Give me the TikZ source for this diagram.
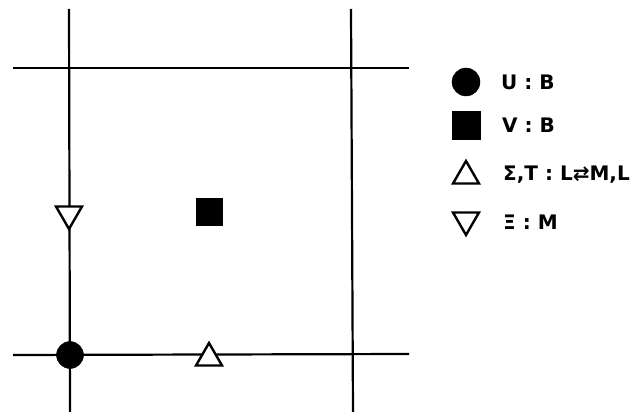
\documentclass[tikz,border=0pt]{standalone}
\usepackage{fontspec}
\setmainfont{DejaVu Sans}
\usetikzlibrary{shapes.geometric}
\begin{document}
\begin{tikzpicture}[x=1pt,y=-1pt,
  gridline/.style={line width=2.2pt},
  fullmark/.style={fill=black,draw=black,inner sep=0pt},
  tri/.style={regular polygon,regular polygon sides=3,draw=black,fill=white,line width=2.4pt,inner sep=0pt,minimum size=30pt},
  lab/.style={anchor=west,font=\bfseries\fontsize{20}{20}\selectfont,inner sep=0pt}]
\useasboundingbox (0,0) rectangle (640,412);
% grid lines
\coordinate (v1t) at (69,9); \coordinate (v1b) at (70,412);
\coordinate (v2t) at (351,9); \coordinate (v2b) at (353,412);
\coordinate (h1l) at (13,68); \coordinate (h1r) at (409,68);
\coordinate (h2l) at (13,355); \coordinate (h2r) at (409,354);
\draw[gridline] (v1t) -- (v1b);
\draw[gridline] (v2t) -- (v2b);
\draw[gridline] (h1l) -- (h1r);
\draw[gridline] (h2l) -- (h2r);
% markers in the grid
\node[fullmark,circle,minimum size=27pt] (U) at (70,355) {};
\node[fullmark,rectangle,minimum width=26pt,minimum height=27pt] (V) at (209,212) {};
\node[tri,shape border rotate=180] (Xi) at (69,214) {};
\node[tri] (Sig) at (209,358) {};
% legend
\node[fullmark,circle,minimum size=28pt] (lU) at (466,82) {};
\node[fullmark,rectangle,minimum width=28pt,minimum height=28pt] (lV) at (466,125) {};
\node[tri] (lS) at (466,176) {};
\node[tri,shape border rotate=180] (lX) at (466,220) {};
\node[lab] (tU) at (501,82) {U : B};
\node[lab] (tV) at (502,125) {V : B};
\node[lab] (tS) at (503,175) {Σ,T : L⇄M,L};
\node[lab] (tX) at (503,222) {Ξ : M};
\end{tikzpicture}
\end{document}
